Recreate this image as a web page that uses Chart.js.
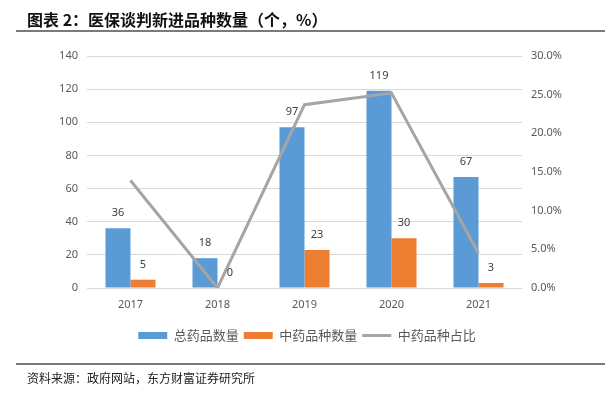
<!DOCTYPE html>
<html>
<head>
<meta charset="utf-8">
<script src="https://cdn.jsdelivr.net/npm/chart.js@4.4.1/dist/chart.umd.min.js"></script>
<style>
  html, body { margin: 0; padding: 0; background: #fff; }
  #wrap { position: relative; width: 614px; height: 396px; overflow: hidden; }
  #myChart { position: absolute; left: 0; top: 0; }
  .title { position: absolute; left: 27px; top: 10px; font: bold 16px "Noto Sans CJK SC", sans-serif; line-height: 18px; color: #111; white-space: nowrap; }
  .rule { position: absolute; left: 16px; width: 589px; height: 2px; background: #7a7a7a; }
  .source { position: absolute; left: 27px; top: 370px; font: 12px "Noto Sans CJK SC", sans-serif; line-height: 16px; color: #222; white-space: nowrap; }
</style>
</head>
<body>
<div id="wrap">
  <canvas id="myChart" width="614" height="396"></canvas>
  <div class="title">图表 2：医保谈判新进品种数量（个，%）</div>
  <div class="rule" style="top:30px"></div>
  <div class="rule" style="top:363px"></div>
  <div class="source">资料来源：政府网站，东方财富证券研究所</div>
</div>
<script>
  const labels = ['2017', '2018', '2019', '2020', '2021'];
  const totalDrugs = [36, 18, 97, 119, 67];
  const tcmDrugs = [5, 0, 23, 30, 3];
  const tcmShare = [0.139, 0, 0.237, 0.252, 0.045];

  const leftTicks = [0, 140, 20];
  const rightTicks = [0, 0.3, 0.05];

  const tickFont = { family: '"Noto Sans", sans-serif', size: 11 };

  // значения над столбцами
  const barLabels = {
    id: 'barLabels',
    afterDatasetsDraw(chart) {
      const ctx = chart.ctx;
      ctx.save();
      ctx.font = '11px "Noto Sans", sans-serif';
      ctx.fillStyle = '#404040';
      ctx.textAlign = 'center';
      ctx.textBaseline = 'middle';
      chart.data.datasets.forEach((ds, i) => {
        if (ds.type !== 'bar') return;
        chart.getDatasetMeta(i).data.forEach((bar, j) => {
          ctx.fillText(String(ds.data[j]), bar.x, bar.y - 15);
        });
      });
      ctx.restore();
    }
  };

  const data = {
    labels: labels,
    datasets: [
      {
        type: 'bar',
        label: '总药品数量',
        data: totalDrugs,
        backgroundColor: '#5B9BD5',
        borderWidth: 0,
        pointStyle: 'rect',
        yAxisID: 'y',
        order: 1
      },
      {
        type: 'bar',
        label: '中药品种数量',
        data: tcmDrugs,
        backgroundColor: '#ED7D31',
        borderWidth: 0,
        pointStyle: 'rect',
        yAxisID: 'y',
        order: 1
      },
      {
        type: 'line',
        label: '中药品种占比',
        data: tcmShare,
        borderColor: '#A5A5A5',
        backgroundColor: '#A5A5A5',
        borderWidth: 3,
        pointRadius: 0,
        pointStyle: 'line',
        tension: 0,
        yAxisID: 'y1',
        order: 0
      }
    ]
  };

  const config = {
    data: data,
    plugins: [barLabels],
    options: {
      responsive: false,
      animation: false,
      layout: { padding: { top: 56, bottom: 44, left: 0, right: 0 } },
      datasets: {
        bar: { categoryPercentage: 0.575, barPercentage: 1.0 }
      },
      plugins: {
        title: { display: false },
        tooltip: { enabled: false },
        legend: {
          position: 'bottom',
          labels: {
            usePointStyle: true,
            pointStyleWidth: 29,
            boxHeight: 7,
            padding: 5,
            color: '#595959',
            font: { family: '"Noto Sans CJK SC", sans-serif', size: 13 },
            sort: (a, b) => a.datasetIndex - b.datasetIndex
          }
        }
      },
      scales: {
        x: {
          grid: { display: false, drawTicks: false },
          border: { display: false },
          ticks: { color: '#595959', font: tickFont, padding: 10 },
          afterFit: (s) => { s.height = 36; }
        },
        y: {
          position: 'left',
          min: leftTicks[0],
          max: leftTicks[1],
          ticks: { stepSize: leftTicks[2], color: '#595959', font: tickFont, padding: 9 },
          grid: { color: '#D9D9D9', lineWidth: 1, drawTicks: false },
          border: { display: false },
          afterFit: (s) => { s.width = 87; }
        },
        y1: {
          position: 'right',
          min: rightTicks[0],
          max: rightTicks[1],
          ticks: {
            stepSize: rightTicks[2],
            color: '#595959',
            font: tickFont,
            padding: 9,
            callback: (v) => (v * 100).toFixed(1) + '%'
          },
          grid: { display: false, drawTicks: false },
          border: { display: false },
          afterFit: (s) => { s.width = 92; }
        }
      }
    }
  };

  var myChart = new Chart(document.getElementById('myChart'), config);
</script>
</body>
</html>
